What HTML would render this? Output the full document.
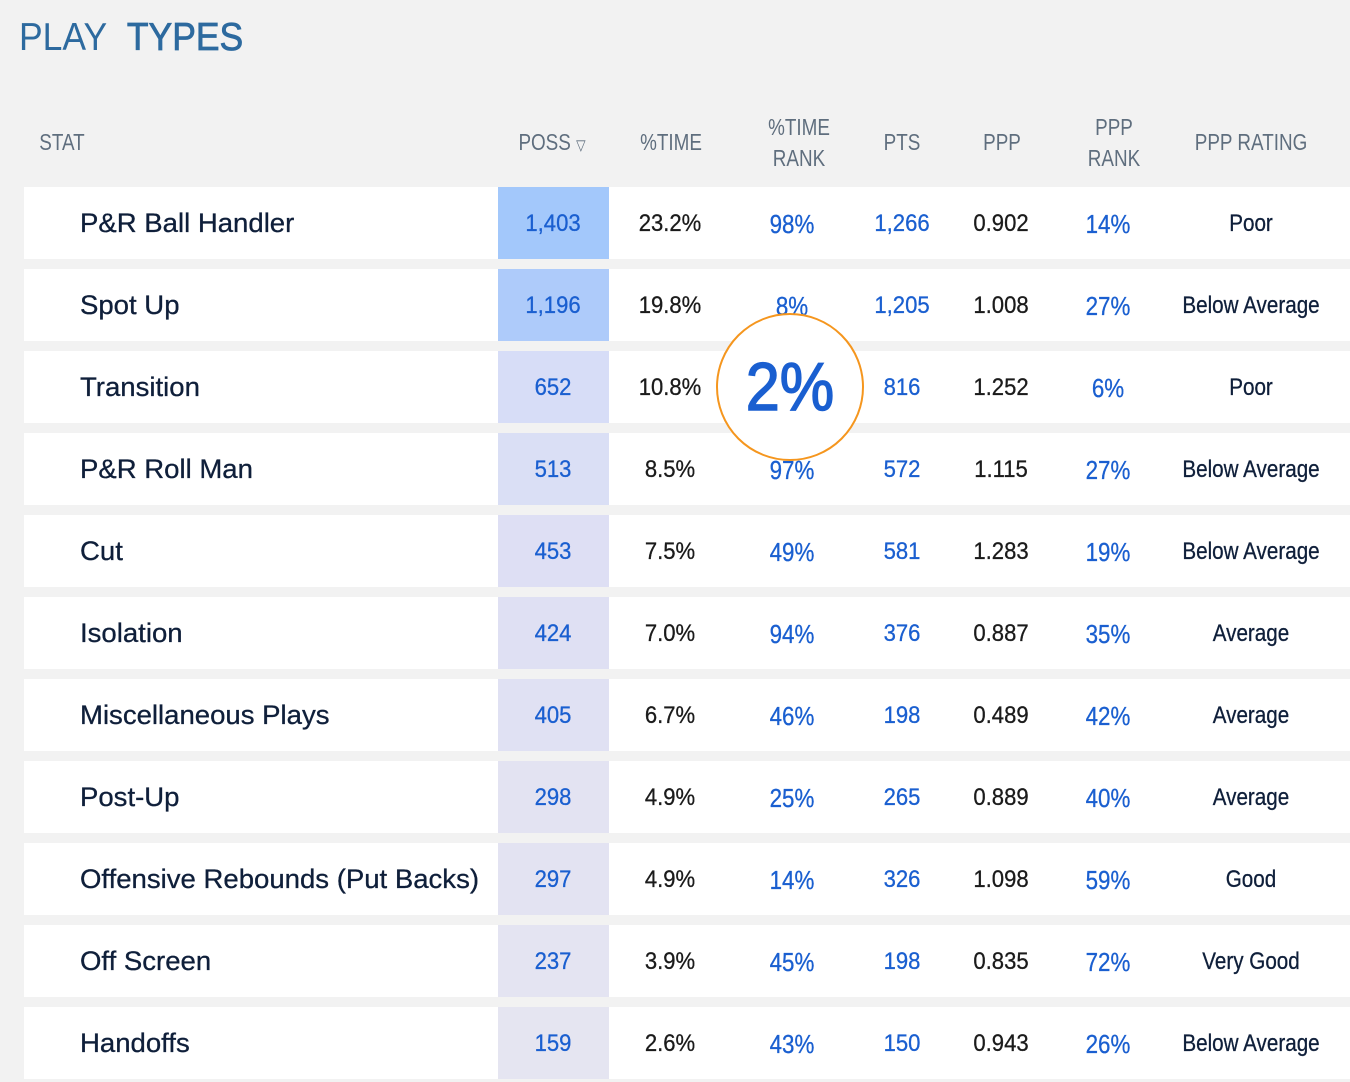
<!DOCTYPE html>
<html><head><meta charset="utf-8"><style>
body{margin:0;width:1350px;height:1082px;background:#f2f2f2;position:relative;overflow:hidden;font-family:"Liberation Sans",sans-serif}
.t{position:absolute;left:19px;top:16px;font-size:39px;color:#2d6a9f;transform-origin:0 0;transform:scaleX(0.91);white-space:nowrap}
.h{position:absolute;color:#5f6e7e;font-size:23px;text-align:center;line-height:31px;transform:translateX(-50%) scaleX(0.82);white-space:nowrap}
.row{position:absolute;left:24px;width:1326px;height:72px;background:#fff}
.c{position:absolute;top:0;height:72px;line-height:74px;font-size:24px;transform:translateX(-50%) scaleX(0.92);white-space:nowrap;color:#1b1b1b;-webkit-text-stroke:0.3px currentColor}
.b{color:#1a5fd0}
.r{transform:translateX(-50%) scaleX(0.86)}
.n{position:absolute;left:56px;top:0;line-height:72px;font-size:27px;color:#0f1f3a;white-space:nowrap;transform-origin:0 50%;transform:scaleX(1.02);-webkit-text-stroke:0.3px #0f1f3a}
.p{position:absolute;left:474px;width:111px;height:72px}
</style></head><body>
<div class="t">PLAY&nbsp;&nbsp;<b style="font-weight:normal;-webkit-text-stroke:0.8px #2d6a9f">TYPES</b></div>
<div class="h" style="left:62px;top:127px">STAT</div>
<div class="h" style="left:552px;top:127px">POSS <span style="font-size:15px">▽</span></div>
<div class="h" style="left:671px;top:127px">%TIME</div>
<div class="h" style="left:799px;top:112px">%TIME<br>RANK</div>
<div class="h" style="left:902px;top:127px">PTS</div>
<div class="h" style="left:1002px;top:127px">PPP</div>
<div class="h" style="left:1114px;top:112px">PPP<br>RANK</div>
<div class="h" style="left:1251px;top:127px">PPP RATING</div>
<div id="rows"></div>
<div style="position:absolute;left:716px;top:313px;width:148px;height:148px;border:2px solid #f5961e;border-radius:50%;background:#fff;box-sizing:border-box"></div>
<div style="position:absolute;left:716px;top:313px;width:148px;height:148px;line-height:148px;text-align:center;font-size:68px;color:#1a5fd0;transform:scaleX(0.9);-webkit-text-stroke:1.5px #1a5fd0">2%</div>
<script>
var d=[["P&R Ball Handler","1,403","23.2%","98%","1,266","0.902","14%","Poor","#a3c8fb"],
["Spot Up","1,196","19.8%","8%","1,205","1.008","27%","Below Average","#aecbfa"],
["Transition","652","10.8%","2%","816","1.252","6%","Poor","#d7ddf7"],
["P&R Roll Man","513","8.5%","97%","572","1.115","27%","Below Average","#dadff5"],
["Cut","453","7.5%","49%","581","1.283","19%","Below Average","#dedff4"],
["Isolation","424","7.0%","94%","376","0.887","35%","Average","#dfe0f3"],
["Miscellaneous Plays","405","6.7%","46%","198","0.489","42%","Average","#e0e1f3"],
["Post-Up","298","4.9%","25%","265","0.889","40%","Average","#e3e3f2"],
["Offensive Rebounds (Put Backs)","297","4.9%","14%","326","1.098","59%","Good","#e3e3f2"],
["Off Screen","237","3.9%","45%","198","0.835","72%","Very Good","#e4e4f2"],
["Handoffs","159","2.6%","43%","150","0.943","26%","Below Average","#e5e5f1"]];
var h="";d.forEach(function(r,i){h+='<div class="row" style="top:'+(187+82*i)+'px"><div class="p" style="background:'+r[8]+'"></div><div class="n">'+r[0].replace("&","&amp;")+'</div>'+
'<div class="c b" style="left:529px">'+r[1]+'</div><div class="c" style="left:646px">'+r[2]+'</div><div class="c b r" style="left:768px;font-size:26px">'+r[3]+'</div><div class="c b" style="left:878px">'+r[4]+'</div><div class="c" style="left:977px">'+r[5]+'</div><div class="c b r" style="left:1084px;font-size:26px">'+r[6]+'</div><div class="c r" style="left:1227px;color:#0f1f3a">'+r[7]+'</div></div>'});
document.getElementById("rows").innerHTML=h;
</script>
</body></html>
